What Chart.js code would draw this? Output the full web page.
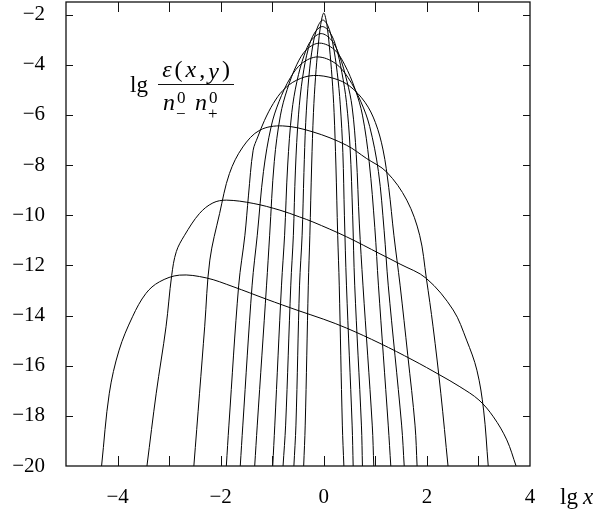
<!DOCTYPE html>
<html>
<head>
<meta charset="utf-8">
<script src="https://cdn.jsdelivr.net/npm/chart.js@4.4.1/dist/chart.umd.min.js"></script>
<style>
  html, body { margin: 0; padding: 0; background: #fff; }
</style>
</head>
<body>
<canvas id="chartCanvas" width="602" height="515"></canvas>
<script>
// lg eps(x, y) against lg x, one arch per value of y
const arch1 = [[-4.31, -20], [-4.16, -17.1], [-3.97, -15.38], [-3.71, -14.05], [-3.45, -13.12], [-3.19, -12.66], [-2.8, -12.39], [-2.28, -12.5], [-1.76, -12.85], [-1.11, -13.35], [-0.5, -13.8], [0, -14.15], [0.44, -14.5], [1.09, -15.11], [1.73, -15.78], [2.25, -16.37], [2.64, -16.84], [3.01, -17.37], [3.29, -18.04], [3.55, -18.96], [3.73, -20]];
const arch2 = [[-3.43, -20], [-3.25, -17.1], [-3.06, -14.45], [-2.95, -12.4], [-2.86, -11.45], [-2.7, -10.8], [-2.41, -9.93], [-2.15, -9.51], [-1.89, -9.4], [-1.37, -9.53], [-0.85, -9.8], [-0.47, -10.07], [-0.21, -10.27], [0.44, -10.86], [1.09, -11.54], [1.48, -11.95], [1.99, -12.52], [2.51, -13.78], [2.77, -14.98], [2.97, -16.18], [3.1, -17.77], [3.19, -20]];
const arch3 = [[-2.52, -20], [-2.41, -17.1], [-2.31, -14.45], [-2.21, -11.79], [-2.02, -9.93], [-1.83, -8.34], [-1.57, -7.28], [-1.24, -6.61], [-0.8, -6.44], [-0.21, -6.68], [0.44, -7.21], [0.83, -7.74], [1.22, -8.28], [1.61, -9.4], [1.86, -10.8], [1.99, -12.52], [2.12, -14.45], [2.27, -17.1], [2.41, -20]];
const arch4 = [[-1.89, -20], [-1.84, -18.37], [-1.65, -12.79], [-1.53, -10.8], [-1.46, -9.2], [-1.37, -7.41], [-1.28, -6.88], [-1.15, -6.22], [-0.98, -5.55], [-0.79, -5.02], [-0.53, -4.62], [-0.2, -4.43], [0.2, -4.55], [0.5, -4.85], [0.8, -5.5], [1.0, -6.3], [1.15, -7.4], [1.26, -8.9], [1.36, -10.8], [1.48, -12.79], [1.63, -15.6], [1.77, -18.37], [1.81, -20]];
const arch5 = [[-1.62, -20], [-1.57, -18.37], [-1.39, -12.79], [-1.29, -10.8], [-1.17, -8.26], [-1.02, -6.46], [-0.87, -5.48], [-0.645, -4.51], [-0.42, -3.94], [-0.12, -3.69], [0.22, -3.94], [0.47, -4.51], [0.72, -5.48], [0.89, -6.46], [1.06, -8.26], [1.17, -10.6], [1.25, -12.79], [1.51, -18.37], [1.56, -20]];
const arch6 = [[-1.34, -20], [-1.29, -18.37], [-1.11, -12.79], [-1.05, -10.8], [-0.96, -7.86], [-0.84, -6.01], [-0.71, -4.99], [-0.52, -3.98], [-0.33, -3.39], [-0.08, -3.14], [0.2, -3.39], [0.4, -3.98], [0.61, -4.99], [0.75, -6.01], [0.88, -7.86], [0.99, -10.5], [1.06, -12.79], [1.25, -18.37], [1.3, -20]];
const arch7 = [[-0.99, -20], [-0.95, -18.37], [-0.82, -12.79], [-0.76, -10.8], [-0.7, -8.0], [-0.62, -5.9], [-0.52, -4.66], [-0.38, -3.62], [-0.24, -3.02], [-0.05, -2.76], [0.15, -3.02], [0.3, -3.62], [0.45, -4.66], [0.55, -5.69], [0.63, -7.59], [0.69, -10.35], [0.76, -12.79], [0.94, -18.37], [0.97, -20]];
const arch8 = [[-0.79, -20], [-0.74, -18.37], [-0.64, -12.79], [-0.59, -10.8], [-0.55, -8.2], [-0.49, -6.0], [-0.41, -4.5], [-0.3, -3.36], [-0.18, -2.74], [-0.03, -2.48], [0.12, -2.72], [0.24, -3.3], [0.35, -4.3], [0.44, -5.5], [0.51, -7.3], [0.56, -10.0], [0.6, -12.79], [0.73, -18.37], [0.75, -20]];
const arch9 = [[-0.58, -20], [-0.54, -18.37], [-0.47, -12.79], [-0.42, -10.8], [-0.385, -8.3], [-0.35, -6.3], [-0.29, -4.5], [-0.21, -3.2], [-0.12, -2.5], [-0.02, -2.22], [0.08, -2.45], [0.17, -3.1], [0.26, -4.3], [0.32, -5.6], [0.37, -7.5], [0.40, -10.0], [0.44, -12.79], [0.55, -18.37], [0.57, -20]];
const arch10 = [[-0.39, -20], [-0.36, -18.37], [-0.3, -12.79], [-0.27, -10.8], [-0.235, -8.0], [-0.2, -5.9], [-0.16, -4.5], [-0.11, -3.3], [-0.06, -2.4], [0, -1.94], [0.06, -2.4], [0.11, -3.3], [0.16, -4.5], [0.2, -5.9], [0.235, -8.0], [0.27, -10.8], [0.3, -12.79], [0.36, -18.37], [0.39, -20]];

const xTickValues = [-4, -2, 0, 2, 4];
const xTickMarks = [-4, -3, -2, -1, 0, 1, 2, 3];
const yTickValues = [-20, -18, -16, -14, -12, -10, -8, -6, -4, -2];

const curves = [arch1, arch2, arch3, arch4, arch5, arch6, arch7, arch8, arch9, arch10];

const serif = "'Liberation Serif', 'Times New Roman', serif";
const withMinus = v => (v < 0 ? '\u2212' + Math.abs(v) : String(v));

// draws a row of text pieces, each [text, style, size, dy], with a small gap after each
function drawRuns(ctx, runs, x, y, gap = 0) {
  runs.forEach(([text, style, size, dy]) => {
    ctx.font = style + ' ' + size + 'px ' + serif;
    ctx.fillText(text, x, y + dy);
    x += ctx.measureText(text).width + gap;
  });
  return x;
}

function runsWidth(ctx, runs, gap = 0) {
  let w = 0;
  runs.forEach(([text, style, size]) => {
    ctx.font = style + ' ' + size + 'px ' + serif;
    w += ctx.measureText(text).width + gap;
  });
  return w - gap;
}

const framePlugin = {
  id: 'frame',
  afterDatasetsDraw(chart) {
    const { ctx, chartArea: a, scales: { x, y } } = chart;
    ctx.save();
    ctx.strokeStyle = '#111';
    ctx.lineWidth = 1.3;
    ctx.strokeRect(a.left, a.top, a.right - a.left, a.bottom - a.top);

    ctx.lineWidth = 1;
    ctx.beginPath();
    xTickMarks.forEach(v => {
      const px = Math.round(x.getPixelForValue(v)) + 0.5;
      ctx.moveTo(px, a.bottom);
      ctx.lineTo(px, a.bottom - 10);
      ctx.moveTo(px, a.top);
      ctx.lineTo(px, a.top + 10);
    });
    yTickValues.forEach(v => {
      if (v === -20) return;
      const py = Math.round(y.getPixelForValue(v)) + 0.5;
      ctx.moveTo(a.left, py);
      ctx.lineTo(a.left + 7, py);
      ctx.moveTo(a.right, py);
      ctx.lineTo(a.right - 7, py);
    });
    ctx.stroke();

    ctx.fillStyle = '#000';
    ctx.textBaseline = 'alphabetic';
    ctx.textAlign = 'left';

    // x axis name
    drawRuns(ctx, [['lg', 'normal', 23, 0], ['x', 'italic', 23, 0]], a.right + 30, 504, 5);

    // y axis name: lg eps(x,y) / (n0- n0+)
    drawRuns(ctx, [['lg', 'normal', 23, 0]], 130, 92);
    const num = [['\u03b5', 'italic', 24, 0], ['(', 'normal', 24, 0], ['x', 'italic', 24, 0], [',', 'normal', 24, 0], ['y', 'italic', 24, 2], [')', 'normal', 24, 0]];
    const cx = 196;
    const gap = 3;
    drawRuns(ctx, num, cx - runsWidth(ctx, num, gap) / 2, 77, gap);
    ctx.beginPath();
    ctx.moveTo(158, 84.5);
    ctx.lineTo(234, 84.5);
    ctx.stroke();

    // denominator, scripts stacked on each n
    [[163, '\u2212'], [195, '+']].forEach(([nx, sign]) => {
      ctx.font = 'italic 24px ' + serif;
      ctx.fillText('n', nx, 110);
      const sx = nx + ctx.measureText('n').width + 1;
      ctx.font = 'normal 17px ' + serif;
      ctx.fillText('0', sx + 1, 103);
      ctx.fillText(sign, sx, 119);
    });
    ctx.restore();
  }
};

new Chart(document.getElementById('chartCanvas'), {
  type: 'scatter',
  data: {
    datasets: curves.map((pts, i) => ({
      label: 'curve ' + (i + 1),
      data: pts.map(([x, y]) => ({ x, y })),
      showLine: true,
      borderColor: '#000',
      borderWidth: 1,
      pointRadius: 0,
      fill: false,
      tension: 0.35
    }))
  },
  options: {
    responsive: false,
    animation: false,
    layout: { padding: { top: 2, right: 72, left: 0, bottom: 0 } },
    plugins: { legend: { display: false }, tooltip: { enabled: false } },
    scales: {
      x: {
        type: 'linear',
        min: -5,
        max: 4,
        grid: { display: false, drawTicks: false },
        border: { display: false },
        afterBuildTicks: s => { s.ticks = xTickValues.map(value => ({ value })); },
        afterFit: s => { s.height = 49; s.paddingLeft = 0; s.paddingRight = 0; },
        ticks: { padding: 19, color: '#000', font: { family: serif, size: 21 }, maxRotation: 0, autoSkip: false, callback: v => withMinus(v) }
      },
      y: {
        type: 'linear',
        min: -20,
        max: -1.5,
        grid: { display: false, drawTicks: false },
        border: { display: false },
        afterBuildTicks: s => { s.ticks = yTickValues.map(value => ({ value })); },
        afterFit: s => { s.width = 66; s.paddingTop = 0; s.paddingBottom = 0; },
        ticks: { padding: 21, color: '#000', font: { family: serif, size: 21 }, autoSkip: false, callback: v => withMinus(v) }
      }
    }
  },
  plugins: [framePlugin]
});
</script>
</body>
</html>
